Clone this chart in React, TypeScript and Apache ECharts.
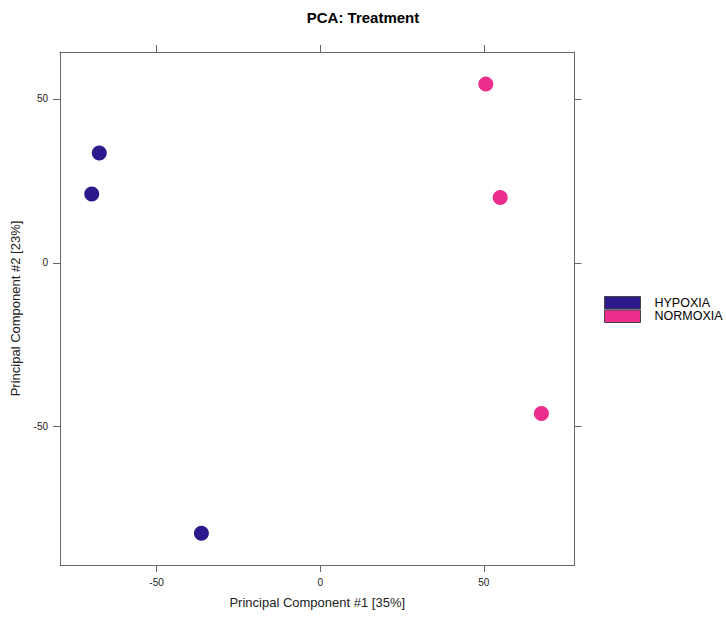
import React, { useEffect, useRef } from "react";
import * as echarts from "echarts";

const groups = ["HYPOXIA", "NORMOXIA"];
const groupColors = ["#2c1a8c", "#ec2d8c"];
const hypoxiaPoints: [number, number][] = [
  [-67.5, 33.5],
  [-69.8, 21.0],
  [-36.3, -82.5],
];
const normoxiaPoints: [number, number][] = [
  [50.6, 54.5],
  [55.0, 19.9],
  [67.6, -46.0],
];
const xTicks = [-50, 0, 50];
const yTicks = [-50, 0, 50];

export default function App() {
  const ref = useRef<HTMLDivElement>(null);
  useEffect(() => {
    if (!ref.current) return;
    const chart = echarts.init(ref.current, undefined, { renderer: "svg" });
    const font = "Liberation Sans, Arial, Helvetica, sans-serif";
    const boxColor = "#666666";
    const axisBase = {
      type: "value" as const,
      splitLine: { show: false },
      axisLine: { show: true, onZero: false, lineStyle: { color: boxColor, width: 1 } },
    };
    const xMin = -79.5, xMax = 77.7, yMin = -92.2, yMax = 64.3;
    const tickStyle = (vals: number[]) => ({
      show: true,
      inside: false,
      length: 7,
      customValues: vals,
      lineStyle: { color: boxColor },
    });
    const labelStyle = (vals: number[], show: boolean) => ({
      show,
      fontSize: 10,
      color: "#222",
      margin: 12,
      customValues: vals,
    });
    chart.setOption({
      animation: false,
      backgroundColor: "#ffffff",
      textStyle: { fontFamily: font },
      title: {
        text: "PCA: Treatment",
        left: "center",
        top: 5,
        textStyle: { fontSize: 15, fontWeight: "bold", color: "#000", fontFamily: font },
      },
      legend: {
        orient: "vertical",
        left: 604,
        top: 296,
        padding: 0,
        itemGap: 0,
        itemWidth: 36,
        itemHeight: 12.5,
        icon: "rect",
        selectedMode: false,
        data: groups.map((g, i) => ({
          name: g,
          itemStyle: { color: groupColors[i], borderColor: "#444", borderWidth: 1 },
        })),
        textStyle: { fontSize: 12.5, color: "#000", fontFamily: font, padding: [0, 0, 0, 9], lineHeight: 12 },
      },
      grid: { left: 60, right: 151.5, top: 52, bottom: 54, containLabel: false },
      xAxis: [
        {
          ...axisBase,
          position: "bottom",
          min: xMin,
          max: xMax,
          axisTick: tickStyle(xTicks),
          axisLabel: labelStyle(xTicks, true),
          name: "Principal Component #1 [35%]",
          nameLocation: "middle",
          nameGap: 31,
          nameTextStyle: { fontSize: 13, color: "#222", fontFamily: font },
        },
        {
          ...axisBase,
          position: "top",
          min: xMin,
          max: xMax,
          axisTick: tickStyle(xTicks),
          axisLabel: labelStyle(xTicks, false),
        },
      ],
      yAxis: [
        {
          ...axisBase,
          position: "left",
          min: yMin,
          max: yMax,
          axisTick: tickStyle(yTicks),
          axisLabel: labelStyle(yTicks, true),
          name: "Principal Component #2 [23%]",
          nameLocation: "middle",
          nameGap: 38,
          nameRotate: 90,
          nameTextStyle: { fontSize: 13, color: "#222", fontFamily: font },
        },
        {
          ...axisBase,
          position: "right",
          min: yMin,
          max: yMax,
          axisTick: tickStyle(yTicks),
          axisLabel: labelStyle(yTicks, false),
        },
      ],
      series: [
        {
          name: groups[0],
          type: "scatter",
          symbolSize: 15,
          itemStyle: { color: groupColors[0], opacity: 1 },
          data: hypoxiaPoints,
        },
        {
          name: groups[1],
          type: "scatter",
          symbolSize: 15,
          itemStyle: { color: groupColors[1], opacity: 1 },
          data: normoxiaPoints,
        },
      ],
    });
    return () => chart.dispose();
  }, []);
  return (
    <div
      ref={ref}
      style={{ position: "fixed", left: 0, top: 0, width: 726, height: 619 }}
    />
  );
}
